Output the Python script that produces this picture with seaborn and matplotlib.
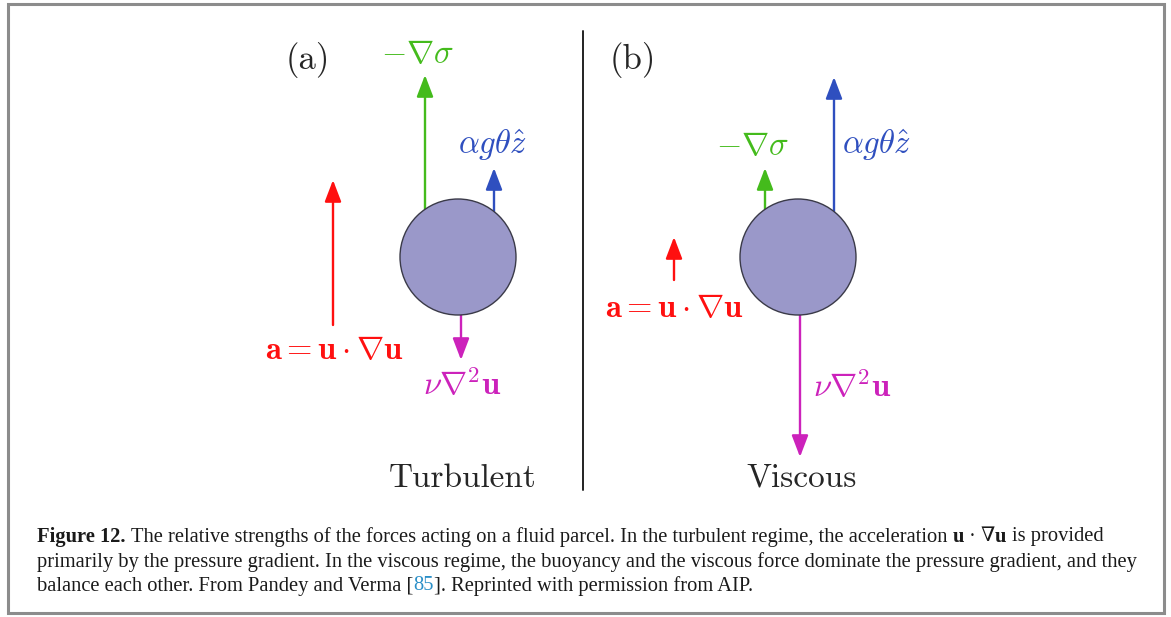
"""
Force balance on a fluid parcel: turbulent vs viscous regime.
Arrow lengths (in figure pixels) stand for the relative force strengths.
"""
import matplotlib
matplotlib.use("Agg")
import matplotlib.pyplot as plt
from matplotlib.patches import Circle, Rectangle
import seaborn as sns

# ---- data -----------------------------------------------------------------
force_names = ["pressure", "buoyancy", "acceleration", "viscous"]
force_labels = [
    r"$-\nabla\sigma$",
    r"$\alpha g\theta\hat{z}$",
    r"$\mathbf{a}=\mathbf{u}\cdot\boldsymbol{\nabla}\mathbf{u}$",
    r"$\nu\boldsymbol{\nabla}^{2}\mathbf{u}$",
]
force_colors = ["#44bb1c", "#2f4fbf", "#ff1010", "#cc22bb"]
force_direction = [-1, -1, -1, 1]          # -1 points up, +1 points down
turbulent_lengths = [134, 44, 145, 45]
viscous_lengths = [41, 135, 43, 142]
panel_tags = ["(a)", "(b)"]
regime_names = ["Turbulent", "Viscous"]

caption_lines = [
    [("Figure 12.", "bold", "k"), (" ",), (
        "The relative strengths of the forces acting on a fluid parcel. In the "
        "turbulent regime, the acceleration", "normal", "k"),
     (" ",), ("u", "bold", "k"), (" ",), ("\u00b7", "normal", "k"), (" ",),
     ("\u2207", "normal", "k"), ("u", "bold", "k"), (" ",), ("is provided", "normal", "k")],
    [("primarily by the pressure gradient. In the viscous regime, the buoyancy "
      "and the viscous force dominate the pressure gradient, and they", "normal", "k")],
    [("balance each other. From Pandey and Verma [", "normal", "k"),
     ("85", "normal", "#2a8fc8"),
     ("]. Reprinted with permission from AIP.", "normal", "k")],
]

# ---- layout ---------------------------------------------------------------
W, H = 1171, 617
panels = [
    dict(cx=458, cy=257, lengths=turbulent_lengths,
         x=[425, 494, 333, 461], base=[209, 212, 325, 315],
         lab=[(418, 53), (493, 145), (334, 350), (462, 385)],
         tag=(308, 60), name=(463, 478)),
    dict(cx=798, cy=257, lengths=viscous_lengths,
         x=[765, 834, 674, 800], base=[209, 212, 280, 315],
         lab=[(753, 145), (877, 145), (674, 307), (852, 387)],
         tag=(633, 60), name=(802, 478)),
]
radius = 58

sns.set_theme(style="white")
plt.rcParams["mathtext.fontset"] = "cm"

fig = plt.figure(figsize=(W / 100, H / 100), dpi=100)
ax = fig.add_axes([0, 0, 1, 1])
ax.set_xlim(0, W)
ax.set_ylim(H, 0)
ax.axis("off")

# outer frame
ax.add_patch(Rectangle((8, 4), 1156, 609, fill=False, ec="#8c8c8c", lw=2.2))

for i, p in enumerate(panels):
    ax.add_patch(Circle((p["cx"], p["cy"]), radius, fc="#9a98c9",
                        ec="#3a3a48", lw=1.0, zorder=3))
    for j, name in enumerate(force_names):
        x0, y0 = p["x"][j], p["base"][j]
        y1 = y0 + force_direction[j] * p["lengths"][j]
        ax.annotate("", xy=(x0, y1), xytext=(x0, y0),
                    arrowprops=dict(arrowstyle="-|>,head_length=1.1,head_width=0.42",
                                    color=force_colors[j], lw=1.7,
                                    shrinkA=0, shrinkB=0),
                    zorder=2)
        lx, ly = p["lab"][j]
        ax.text(lx, ly, force_labels[j], color=force_colors[j], fontsize=23.5,
                ha="center", va="center")
    ax.text(*p["tag"], panel_tags[i], fontfamily="cmr10", fontsize=25,
            ha="center", va="center")
    ax.text(*p["name"], regime_names[i], fontfamily="cmr10", fontsize=24,
            ha="center", va="center")

# divider between panels
ax.plot([583, 583], [31, 490], color="#222222", lw=1.4)

# caption, placed piece by piece
fig.canvas.draw()
renderer = fig.canvas.get_renderer()
cap_font = dict(fontfamily=["Liberation Serif", "DejaVu Serif"], fontsize=14.75)


def text_width(s, weight="normal"):
    t = ax.text(0, 0, s, fontweight=weight, **cap_font)
    w = t.get_window_extent(renderer).width
    t.remove()
    return w


space_w = text_width("x x") - text_width("xx")
line_y = [537, 562, 586]
for y, pieces in zip(line_y, caption_lines):
    x = 37
    for piece in pieces:
        if piece[0] == " " and len(piece) == 1:
            x += space_w * (1.6 if piece is not pieces[1] else 1.0)
            continue
        s, weight, color = piece
        t = ax.text(x, y, s, fontweight=weight, color=color, ha="left",
                    va="center", **cap_font)
        x += t.get_window_extent(renderer).width

fig.savefig("out.png", dpi=100)
